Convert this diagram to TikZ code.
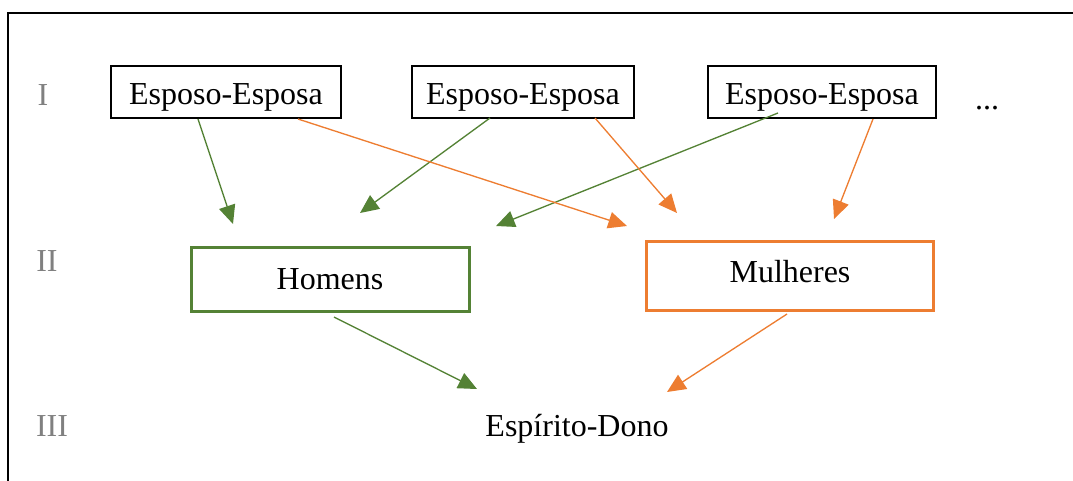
\documentclass[tikz,border=0pt]{standalone}
\usepackage{fontspec}
\setmainfont{Liberation Serif}
\usetikzlibrary{arrows.meta}
\definecolor{grn}{HTML}{548235}
\definecolor{org}{HTML}{ED7D31}
\definecolor{lvl}{RGB}{128,128,128}
\begin{document}
\begin{tikzpicture}[x=0.75pt,y=-0.75pt,
  every node/.style={font=\fontsize{24}{28}\selectfont, inner sep=0pt},
  couple/.style={draw=black, line width=1.5pt, minimum height=39pt, text height=18pt, text depth=0pt},
  menbox/.style={draw=grn, line width=2.25pt, minimum width=208.5pt, minimum height=48pt},
  womenbox/.style={draw=org, line width=2.25pt, minimum width=215pt, minimum height=51.5pt, text depth=7pt},
  level/.style={text=lvl},
  garrow/.style={draw=grn, line width=1pt, -{Triangle[length=14pt,width=12.5pt]}},
  oarrow/.style={draw=org, line width=1pt, -{Triangle[length=14pt,width=12.5pt]}}]
  \useasboundingbox (0,0) rectangle (1073,480);
  % frame
  \draw[line width=1.5pt] (8,481) -- (8,13) -- (1074,13);

  % level labels
  \node[level] (l1) at (43,95) {I};
  \node[level] (l2) at (47,261) {II};
  \node[level] (l3) at (52,426) {III};

  % level I: couples
  \node[couple, minimum width=172.5pt] (c1) at (226,92) {Esposo-Esposa};
  \node[couple, minimum width=166.5pt] (c2) at (523,92) {Esposo-Esposa};
  \node[couple, minimum width=171pt]   (c3) at (822,92) {Esposo-Esposa};
  \node (dots) at (987,108) {...};

  % level II
  \node[menbox]   (men)   at (330,279) {Homens};
  \node[womenbox] (women) at (790,276) {Mulheres};

  % level III
  \node (spirit) at (577,429) {Espírito-Dono};

  % connector ends
  \coordinate (c1g) at (198,119);
  \coordinate (c1o) at (298,119);
  \coordinate (c2g) at (490,118);
  \coordinate (c2o) at (595,118);
  \coordinate (c3g) at (778,113);
  \coordinate (c3o) at (873,119);
  \coordinate (mg1) at (233,224);
  \coordinate (mg2) at (360,213);
  \coordinate (mg3) at (496,226);
  \coordinate (wo1) at (627,226);
  \coordinate (wo2) at (677,213);
  \coordinate (wo3) at (834,219);
  \coordinate (menout)   at (334,317);
  \coordinate (womenout) at (787,314);
  \coordinate (sg) at (477,389);
  \coordinate (so) at (667,392);

  % husbands to men
  \draw[garrow] (c1g) -- (mg1);
  \draw[garrow] (c2g) -- (mg2);
  \draw[garrow] (c3g) -- (mg3);
  % wives to women
  \draw[oarrow] (c1o) -- (wo1);
  \draw[oarrow] (c2o) -- (wo2);
  \draw[oarrow] (c3o) -- (wo3);
  % men and women to the spirit-owner
  \draw[garrow] (menout) -- (sg);
  \draw[oarrow] (womenout) -- (so);
\end{tikzpicture}
\end{document}
